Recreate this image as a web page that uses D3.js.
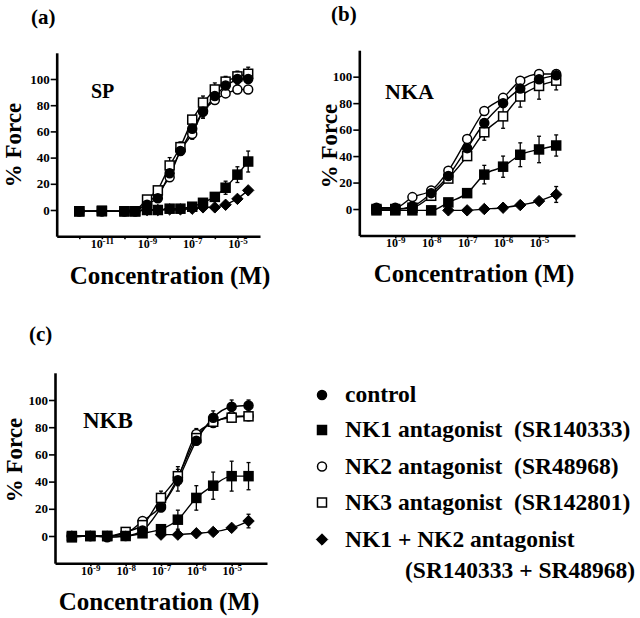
<!DOCTYPE html>
<html><head><meta charset="utf-8">
<script src="https://cdn.jsdelivr.net/npm/d3@7"></script>
<style>
body{margin:0;background:#fff}
svg{display:block}
text{font-family:"Liberation Serif","Times New Roman",serif;font-weight:bold;fill:#000}
</style>
</head><body>
<svg id="chart" width="640" height="618"></svg>
<script>
// ---------- DATA ----------
const seriesNames = ["control", "NK1 antagonist  (SR140333)", "NK2 antagonist  (SR48968)", "NK3 antagonist  (SR142801)", "NK1 + NK2 antagonist"];
const seriesNames2 = ["", "", "", "", "(SR140333 + SR48968)"];
const yTickValues = [0, 20, 40, 60, 80, 100];

// (a) SP
const spConc    = [1e-12, 1e-11, 1e-10, 3e-10, 1e-9, 3e-9, 1e-8, 3e-8, 1e-7, 3e-7, 1e-6, 3e-6, 1e-5, 3e-5];
const spControl = [-1, -1, -1, -1, 4, 9, 28, 45, 62, 75, 87, 95, 100, 100];
const spNK1     = [-1, -0.5, -1, -1, 0, 0, 1, 1, 2.5, 5.5, 10, 17, 27, 37];
const spNK2     = [-1, -1, -1, -1, 5, 12, 25, 46, 58, 76, 84, 89, 92, 92];
const spNK3     = [-1, -1, -1, -1, 8, 15, 34, 48, 69, 82, 92, 98, 102, 104];
const spNK12    = [null, null, null, null, 0, 0, 0.5, 0.5, 1, 2, 2, 4, 8.5, 15];
const spErrControl = [null, null, null, null, null, null, 2, 3, 3, 5, 4, 5, 4, 3];
const spErrNK1     = [null, null, null, null, null, null, null, null, null, 2, 3, 5, 6, 8];
const spErrNK2     = [null, null, null, null, null, null, 3, 3, 4, 5, 3, 3, 3, 3];
const spErrNK3     = [null, null, null, null, null, null, 6, 4, 3, 5, 5, 4, 4, 5];
const spErrNK12    = [null, null, null, null, null, null, null, null, null, null, null, null, 1, 2];

// (b) NKA
const nkaConc    = [3e-10, 1e-9, 3e-9, 1e-8, 3e-8, 1e-7, 3e-7, 1e-6, 3e-6, 1e-5, 3e-5];
const nkaControl = [0, 0, 2, 12, 25, 46, 65, 80, 91, 98, 101];
const nkaNK1     = [-1, -1, -1, -1, 5, 12, 26, 32, 41, 45, 48];
const nkaNK2     = [1, 1, 9, 14, 29, 53, 74, 84, 97, 102, 102];
const nkaNK3     = [0, 0, 1, 10, 23, 40, 58, 70, 85, 93, 97];
const nkaNK12    = [null, null, null, null, -1, -1, 0, 1, 3, 6, 11];
const nkaErrControl = [null, null, null, 5, 3, 3, 3, 3, 3, 3, 4];
const nkaErrNK1     = [null, null, null, null, 2, 3, 7, 8, 9, 10, 8];
const nkaErrNK2     = [null, null, null, null, null, null, null, null, 2, 3, 3];
const nkaErrNK3     = [null, null, null, null, null, null, 6, 9, 8, 10, 7];
const nkaErrNK12    = [null, null, null, null, null, null, null, null, null, 2, 6];

// (c) NKB
const nkbConc    = [3e-10, 1e-9, 3e-9, 1e-8, 3e-8, 1e-7, 3e-7, 1e-6, 3e-6, 1e-5, 3e-5];
const nkbControl = [0, 0, -1, 0, 4, 21, 41, 70, 87, 95, 96];
const nkbNK1     = [-1, 0, 0, 0, 2, 5, 12, 28, 37, 44, 44];
const nkbNK2     = [0, 0, 0, 2, 11, 22, 43, 75, 83, 88, 88];
const nkbNK3     = [0, 0, 0, 3, 8, 28, 44, 72, 84, 87, 88];
const nkbNK12    = [null, null, null, null, null, 1, 1, 2, 3, 6, 11];
const nkbErrControl = [null, null, null, null, null, 3, 8, 3, 5, 5, 4];
const nkbErrNK1     = [null, null, null, null, null, 3, 7, 9, 10, 11, 10];
const nkbErrNK2     = [null, null, null, null, null, null, null, 4, 3, 3, 3];
const nkbErrNK3     = [null, null, null, null, null, 5, 7, 3, 3, 3, 3];
const nkbErrNK12    = [null, null, null, null, null, null, null, null, null, 2, 5];

// ---------- DRAWING ----------
const FONT = "'Liberation Serif','Times New Roman',serif";
const svg = d3.select("#chart");
const shapes = ["circleF", "squareF", "circleO", "squareO", "diamondF"];
const drawOrder = [2, 3, 0, 1, 4];

function marker(g, shape, cx, cy) {
  const filled = shape.endsWith("F");
  const fill = filled ? "#000" : "#fff";
  if (shape.startsWith("circle")) {
    g.append("circle").attr("cx", cx).attr("cy", cy).attr("r", 4.5)
      .attr("fill", fill).attr("stroke", "#000").attr("stroke-width", 1.5);
  } else if (shape.startsWith("square")) {
    g.append("rect").attr("x", cx - 4.5).attr("y", cy - 4.5).attr("width", 9).attr("height", 9)
      .attr("fill", fill).attr("stroke", "#000").attr("stroke-width", 1.5);
  } else {
    const h = 5.7;
    g.append("path").attr("d", `M${cx},${cy - h}L${cx + h},${cy}L${cx},${cy + h}L${cx - h},${cy}Z`)
      .attr("fill", fill).attr("stroke", "#000").attr("stroke-width", 1);
  }
}

const panels = [
  { label: "(a)", labelPos: [31, 24], name: "SP", namePos: [91, 98], nameSize: 20,
    conc: spConc, values: [spControl, spNK1, spNK2, spNK3, spNK12],
    errs: [spErrControl, spErrNK1, spErrNK2, spErrNK3, spErrNK12],
    xDomain: [1e-13, 1e-4], xRange: [56.7, 260], yRange: [236.2, 52.8],
    xTicks: d3.range(-12, -4), xLabels: [-11, -9, -7, -5], curve: d3.curveLinear,
    yTitle: [21, 145], xTitle: [170, 284] },
  { label: "(b)", labelPos: [331, 21], name: "NKA", namePos: [385, 99], nameSize: 22,
    conc: nkaConc, values: [nkaControl, nkaNK1, nkaNK2, nkaNK3, nkaNK12],
    errs: [nkaErrControl, nkaErrNK1, nkaErrNK2, nkaErrNK3, nkaErrNK12],
    xDomain: [1e-10, 1e-4], xRange: [359.3, 575], yRange: [235.5, 50.2],
    xTicks: d3.range(-9, -4), xLabels: [-9, -8, -7, -6, -5], curve: d3.curveMonotoneX,
    yTitle: [337, 146], xTitle: [474, 282] },
  { label: "(c)", labelPos: [29, 341], name: "NKB", namePos: [83, 428], nameSize: 23,
    conc: nkbConc, values: [nkbControl, nkbNK1, nkbNK2, nkbNK3, nkbNK12],
    errs: [nkbErrControl, nkbErrNK1, nkbErrNK2, nkbErrNK3, nkbErrNK12],
    xDomain: [1e-10, 1e-4], xRange: [55, 267], yRange: [563.2, 372.8],
    xTicks: d3.range(-9, -4), xLabels: [-9, -8, -7, -6, -5], curve: d3.curveMonotoneX,
    yTitle: [22, 460], xTitle: [159, 610] }
];

panels.forEach(p => {
  const g = svg.append("g");
  const x = d3.scaleLog().domain(p.xDomain).range(p.xRange);
  const y = d3.scaleLinear().domain([-20, 120]).range(p.yRange);

  // y axis
  const ya = g.append("g").attr("transform", `translate(${p.xRange[0]},0)`)
    .call(d3.axisLeft(y).tickValues(yTickValues).tickSize(6).tickSizeOuter(0).tickPadding(1))
    .attr("font-family", FONT).attr("font-size", 13).attr("font-weight", "bold");
  ya.select(".domain").attr("stroke-width", 2.6).attr("stroke", "#000");
  ya.selectAll(".tick line").attr("stroke-width", 1.6).attr("stroke", "#000");
  ya.selectAll(".tick text").style("font-size", "13px").attr("fill", "#000")
    .style("font-family", FONT).style("font-weight", "bold");

  // x axis
  const xa = g.append("g").attr("transform", `translate(0,${p.yRange[0]})`)
    .call(d3.axisBottom(x).tickValues(p.xTicks.map(e => Math.pow(10, e)))
      .tickSize(3).tickSizeOuter(0).tickPadding(0).tickFormat(""))
    .attr("font-family", FONT).attr("font-weight", "bold");
  xa.select(".domain").attr("stroke-width", 2.6).attr("stroke", "#000");
  xa.selectAll(".tick line").attr("stroke-width", 1.6).attr("stroke", "#000");
  xa.selectAll(".tick").each(function(d) {
    const e = Math.round(Math.log10(d));
    if (!p.xLabels.includes(e)) return;
    const t = d3.select(this).select("text");
    t.text(null).attr("y", 3).attr("dy", "0.72em").attr("text-anchor", "middle")
      .style("font-size", "12px").style("font-family", FONT)
      .style("font-weight", "bold").attr("fill", "#000");
    t.append("tspan").text("10");
    t.append("tspan").text("-" + Math.abs(e)).attr("dy", "-0.45em").style("font-size", "9px");
  });

  // titles
  g.append("text").attr("x", p.labelPos[0]).attr("y", p.labelPos[1]).style("font-size", "21px").text(p.label);
  g.append("text").attr("x", p.namePos[0]).attr("y", p.namePos[1]).style("font-size", p.nameSize + "px").text(p.name);
  g.append("text").attr("transform", `translate(${p.yTitle[0]},${p.yTitle[1]}) rotate(-90)`)
    .attr("text-anchor", "middle").style("font-size", "23px").text("% Force");
  g.append("text").attr("x", p.xTitle[0]).attr("y", p.xTitle[1]).attr("text-anchor", "middle")
    .style("font-size", "25px").text("Concentration (M)");

  // lines
  const line = d3.line().x(d => x(d.c)).y(d => y(d.v)).curve(p.curve);
  p.values.forEach(vals => {
    const pts = p.conc.map((c, i) => ({ c, v: vals[i] })).filter(d => d.v !== null);
    g.append("path").datum(pts).attr("d", line).attr("fill", "none")
      .attr("stroke", "#000").attr("stroke-width", 1.4);
  });

  // error bars
  p.values.forEach((vals, s) => {
    p.conc.forEach((c, i) => {
      const v = vals[i], e = p.errs[s][i];
      if (v === null || e === null || e === undefined) return;
      const cx = x(c);
      g.append("line").attr("x1", cx).attr("x2", cx).attr("y1", y(v - e)).attr("y2", y(v + e))
        .attr("stroke", "#000").attr("stroke-width", 1.3);
      [v - e, v + e].forEach(b => g.append("line").attr("x1", cx - 2).attr("x2", cx + 2)
        .attr("y1", y(b)).attr("y2", y(b)).attr("stroke", "#000").attr("stroke-width", 1.3));
    });
  });

  // markers
  drawOrder.forEach(s => {
    p.conc.forEach((c, i) => {
      const v = p.values[s][i];
      if (v === null) return;
      marker(g, shapes[s], x(c), y(v));
    });
  });
});

// legend
const lg = svg.append("g");
const legendRows = [395, 430, 466.5, 502.5, 539.5];
seriesNames.forEach((name, i) => {
  marker(lg, shapes[i], 322, legendRows[i]);
  lg.append("text").attr("x", 345).attr("y", legendRows[i]).attr("dy", "0.3em")
    .style("font-size", "23.5px").style("white-space", "pre").attr("xml:space", "preserve").text(name);
  if (seriesNames2[i]) {
    lg.append("text").attr("x", 405).attr("y", legendRows[i] + 31).attr("dy", "0.3em")
      .style("font-size", "23.5px").text(seriesNames2[i]);
  }
});
</script>
</body></html>
